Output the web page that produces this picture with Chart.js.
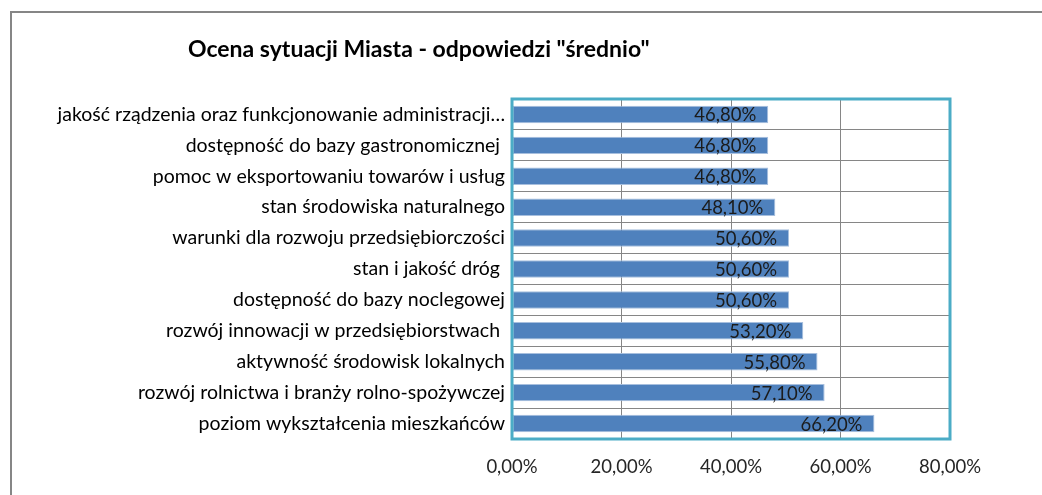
<!DOCTYPE html>
<html>
<head>
<meta charset="utf-8">
<script src="https://cdn.jsdelivr.net/npm/chart.js@4.4.1/dist/chart.umd.min.js"></script>
<style>
  html, body { margin: 0; padding: 0; background: #fff; overflow: hidden; }
  #wrap { width: 1042px; height: 495px; }
</style>
</head>
<body>
<div id="wrap"><canvas id="ratingChart" width="1042" height="495"></canvas></div>
<script>
// ================= DATA =================
const chartTitle = 'Ocena sytuacji Miasta - odpowiedzi "średnio"';

const categories = [
    "jakość rządzenia oraz funkcjonowanie administracji…",
    "dostępność do bazy gastronomicznej ",
    "pomoc w eksportowaniu towarów i usług",
    "stan środowiska naturalnego",
    "warunki dla rozwoju przedsiębiorczości",
    "stan i jakość dróg ",
    "dostępność do bazy noclegowej",
    "rozwój innowacji w przedsiębiorstwach ",
    "aktywność środowisk lokalnych",
    "rozwój rolnictwa i branży rolno-spożywczej",
    "poziom wykształcenia mieszkańców"
];

const averageShare = [46.8, 46.8, 46.8, 48.1, 50.6, 50.6, 50.6, 53.2, 55.8, 57.1, 66.2];

const axisMin = 0;
const axisMax = 80;
const axisStep = 20;

const fontFamily = "Lato, 'Open Sans', sans-serif";

function pct(v) {
    return v.toFixed(2).replace(".", ",") + "%";
}

// ================= PLUGINS =================
const frame = {
    id: "frame",
    beforeDraw(chart) {
        const ctx = chart.ctx;
        ctx.save();
        ctx.strokeStyle = "#868686";
        ctx.lineWidth = 2;
        ctx.strokeRect(11, 12, 1200, 700);
        ctx.font = "bold 23px " + fontFamily;
        ctx.fillStyle = "#000";
        ctx.textBaseline = "middle";
        ctx.textAlign = "left";
        ctx.fillText(chartTitle, 188, 50);
        ctx.restore();
    },
    afterDatasetsDraw(chart) {
        const ctx = chart.ctx;
        const a = chart.chartArea;
        ctx.save();
        ctx.font = "18.5px " + fontFamily;
        ctx.fillStyle = "#1b1b1b";
        ctx.textAlign = "right";
        ctx.textBaseline = "middle";
        chart.getDatasetMeta(0).data.forEach((bar, i) => {
            ctx.fillText(pct(averageShare[i]), bar.x - 12, bar.y + 1);
        });
        ctx.strokeStyle = "#4BACC6";
        ctx.lineWidth = 3;
        ctx.strokeRect(a.left, a.top, a.right - a.left, a.bottom - a.top);
        ctx.restore();
    }
};

// ================= CHART =================
new Chart(document.getElementById("ratingChart"), {
    type: "bar",
    data: {
        labels: categories,
        datasets: [{
            data: averageShare,
            backgroundColor: "#4F81BD",
            borderColor: "#A7BFDE",
            borderWidth: 1,
            borderSkipped: false,
            categoryPercentage: 1,
            barPercentage: 0.565
        }]
    },
    options: {
        indexAxis: "y",
        responsive: false,
        animation: false,
        layout: { padding: { top: 99, right: 92, bottom: 0, left: 0 } },
        plugins: {
            legend: { display: false },
            title: { display: false },
            tooltip: { enabled: false }
        },
        scales: {
            x: {
                min: axisMin,
                max: axisMax,
                ticks: {
                    stepSize: axisStep,
                    padding: 17,
                    color: "#262626",
                    font: { family: fontFamily, size: 18.5 },
                    callback: v => pct(v)
                },
                grid: { color: "#868686", drawTicks: false },
                border: { display: false },
                afterFit(scale) { scale.height = 56; }
            },
            y: {
                ticks: {
                    padding: 7,
                    color: "#000",
                    autoSkip: false,
                    font: { family: fontFamily, size: 19.5 }
                },
                grid: { color: "#868686", drawTicks: false, offset: true },
                border: { display: false },
                afterFit(scale) { scale.width = 512; }
            }
        }
    },
    plugins: [frame]
});
</script>
</body>
</html>
